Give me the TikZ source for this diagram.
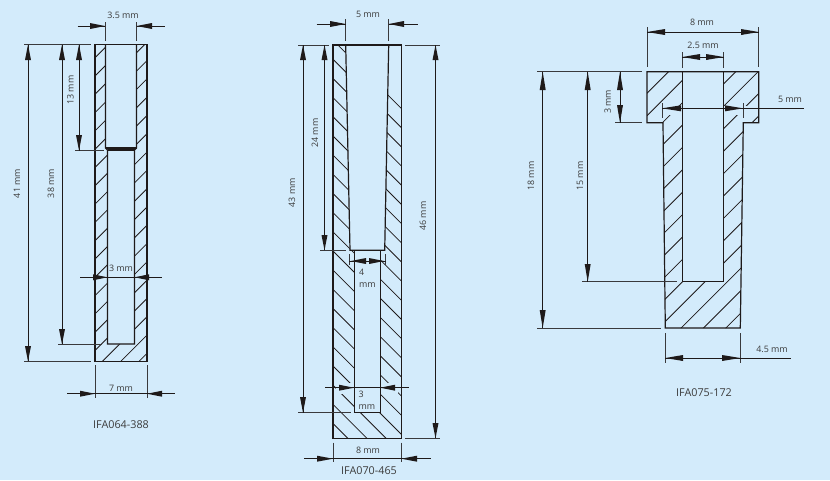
\documentclass[tikz,border=0pt]{standalone}
\usepackage{fontspec}
\setmainfont{Open Sans}
\definecolor{bgc}{HTML}{D3EBFB}
\definecolor{ink}{HTML}{1E1A1A}
\definecolor{txt}{HTML}{3C3C3C}
\tikzset{
 outline/.style={draw=ink,line width=1.2pt,line join=miter},
 hatchline/.style={draw=ink,line width=0.8pt},
 dimline/.style={draw=ink,line width=0.8pt},
 extline/.style={draw=ink!85!bgc,line width=0.85pt},
 lbl/.style={text=txt,font=\fontsize{8.9}{10}\selectfont,inner sep=0pt},
 captxt/.style={text=txt,font=\fontsize{10.8}{12}\selectfont,inner sep=0pt},
}
\newcommand{\headx}[3]{\fill[ink] (#1,#3) -- (#2,#3-3) -- (#2,#3+3) -- cycle;}
\newcommand{\heady}[3]{\fill[ink] (#3,#1) -- (#3-3,#2) -- (#3+3,#2) -- cycle;}
\begin{document}
\begin{tikzpicture}[x=1pt,y=-1pt]
\useasboundingbox (0,0) rectangle (830,480);
\fill[bgc] (0,0) rectangle (830,480);
%% ---------- left part
\begin{scope}
 \clip (95,44.5) rectangle (147,361.3);
 \foreach \n in {-1,...,20} \draw[hatchline] (95,57.7+18.3*\n) -- ++(60,-60);
\end{scope}
\fill[bgc] (105.5,44.5) -- (136.5,44.5) -- (136.5,148) -- (134.5,150) -- (134.5,344) -- (107.5,344) -- (107.5,150) -- (105.5,148) -- cycle;
\draw[outline] (95,44.5) rectangle (147,361.3);
\draw[outline] (105.5,44.5) -- (105.5,148) -- (107.5,150) -- (107.5,344) -- (134.5,344) -- (134.5,150) -- (136.5,148) -- (136.5,44.5);
\draw[outline] (105.5,148) -- (136.5,148) (107.5,150) -- (134.5,150);
% extension lines
\draw[extline] (24,44.5) -- (91,44.5);
\draw[extline] (75,150.5) -- (104,150.5);
\draw[extline] (58,344) -- (102,344);
\draw[extline] (24,361.3) -- (91,361.3);
\draw[extline] (105.3,22) -- (105.3,41) (136.7,22) -- (136.7,41);
\draw[extline] (95,365) -- (95,398) (147,365) -- (147,398);
% dims
\draw[dimline] (77.5,26) -- (105,26) (136.5,26) -- (165,26);
\headx{105}{90}{26} \headx{136.5}{152}{26}
\draw[dimline] (28,44.5) -- (28,361.3); \heady{44.5}{60}{28} \heady{361.3}{346}{28}
\draw[dimline] (62,44.5) -- (62,344); \heady{44.5}{60}{62} \heady{344}{329}{62}
\draw[dimline] (79,44.5) -- (79,150.5); \heady{44.5}{60}{79} \heady{150.5}{135}{79}
\draw[dimline] (80,277.3) -- (162,277.3); \headx{107.5}{93}{277.3} \headx{134.5}{149}{277.3}
\draw[dimline] (67,393.7) -- (175,393.7); \headx{95}{80}{393.7} \headx{147}{162}{393.7}
\node[lbl] (a1) at (123,15.5) {3.5 mm};
\node[lbl,rotate=90] (a2) at (17,183.5) {41 mm};
\node[lbl,rotate=90] (a3) at (51,183.5) {38 mm};
\node[lbl,rotate=90] (a4) at (70.5,90) {13 mm};
\node[lbl] (a5) at (121,268) {3 mm};
\node[lbl] (a6) at (121,388) {7 mm};
\node[captxt] (a7) at (121,425) {IFA064-388};
%% ---------- middle part
\begin{scope}
 \clip (333,45) rectangle (401.3,438.3);
 \foreach \n in {-1,...,21} \draw[hatchline] (333,59.3+19.17*\n) -- ++(80,80);
\end{scope}
\fill[bgc] (345.7,45) -- (388.7,45) -- (384.7,250.3) -- (380.3,250.3) -- (380.3,412.7) -- (354.3,412.7) -- (354.3,250.3) -- (350,250.3) -- cycle;
\fill[bgc] (336,383) rectangle (398,393.5);
\draw[outline] (333,45) rectangle (401.3,438.3);
\draw[outline] (345.7,45) -- (350,250.3) -- (384.7,250.3) -- (388.7,45);
\draw[outline] (354.3,250.3) -- (354.3,412.7) -- (380.3,412.7) -- (380.3,250.3);
\draw[extline] (298,45) -- (329,45) (405,45) -- (440,45);
\draw[extline] (298,412.7) -- (351,412.7);
\draw[extline] (320,250.3) -- (346,250.3);
\draw[extline] (405,438.3) -- (440,438.3);
\draw[extline] (345.7,19) -- (345.7,41) (388.7,19) -- (388.7,41);
\draw[extline] (333,442.7) -- (333,462) (401.3,442.7) -- (401.3,462);
\draw[extline] (349.5,254) -- (349.5,265) (385,254) -- (385,265);
\draw[dimline] (316.7,24) -- (345.7,24) (388.7,24) -- (417.7,24);
\headx{345.7}{330}{24} \headx{388.7}{404}{24}
\draw[dimline] (303,45) -- (303,412.7); \heady{45}{60}{303} \heady{412.7}{397}{303}
\draw[dimline] (324.5,45) -- (324.5,250.3); \heady{45}{60}{324.5} \heady{250.3}{235}{324.5}
\draw[dimline] (435.5,45) -- (435.5,438.3); \heady{45}{60}{435.5} \heady{438.3}{423}{435.5}
\draw[dimline] (349,261) -- (386,261); \headx{351}{366}{261} \headx{384}{369}{261}
\draw[dimline] (325,387.7) -- (409,387.7); \headx{354}{339}{387.7} \headx{380.3}{395}{387.7}
\draw[dimline] (304,458.7) -- (431,458.7); \headx{333}{317}{458.7} \headx{401.3}{417}{458.7}
\node[lbl] (b1) at (368,14) {5 mm};
\node[lbl,rotate=90] (b2) at (292,192.7) {43 mm};
\node[lbl,rotate=90] (b3) at (315,133) {24 mm};
\node[lbl,rotate=90] (b4) at (423,216) {46 mm};
\node[lbl,align=left,anchor=north west] (b5) at (359,268.5) {4\\[2pt]mm};
\node[lbl,align=left,anchor=north west] (b6) at (358.5,390.5) {3\\[2pt]mm};
\node[lbl] (b7) at (368,450) {8 mm};
\node[captxt] (b8) at (369,470.5) {IFA070-465};
%% ---------- right part
\begin{scope}
 \clip (647,71.7) -- (758.7,71.7) -- (758.7,122.7) -- (743.3,122.7) -- (740.3,328) -- (665.3,328) -- (663,122.7) -- (647,122.7) -- cycle;
 \foreach \n in {-1,...,16} \draw[hatchline] (647,93.3+22.4*\n) -- ++(130,-130);
\end{scope}
\fill[bgc] (682.3,71.7) rectangle (723.7,281.7);
\fill[bgc] (660,106) rectangle (747,115);
\draw[outline] (647,71.7) -- (758.7,71.7) -- (758.7,122.7) -- (743.3,122.7) -- (740.3,328) -- (665.3,328) -- (663,122.7) -- (647,122.7) -- cycle;
\draw[outline] (682.3,71.7) -- (682.3,281.7) -- (723.7,281.7) -- (723.7,71.7);
\draw[extline] (537,71.7) -- (642,71.7);
\draw[extline] (615,122.7) -- (642,122.7);
\draw[extline] (582,281.7) -- (677,281.7);
\draw[extline] (537,328) -- (661,328);
\draw[extline] (647,27) -- (647,67) (758.7,27) -- (758.7,67);
\draw[extline] (682.3,52) -- (682.3,68) (723.7,52) -- (723.7,68);
\draw[extline] (662.7,103) -- (662.7,118) (743,103) -- (743,118);
\draw[extline] (665.3,333) -- (665.3,363) (740.3,333) -- (740.3,363);
\draw[dimline] (647,32) -- (758.7,32); \headx{647}{665}{32} \headx{758.7}{741}{32}
\draw[dimline] (682.3,57) -- (723.7,57); \headx{682.3}{700}{57} \headx{723.7}{706}{57}
\draw[dimline] (542.7,71.7) -- (542.7,328); \heady{71.7}{90}{542.7} \heady{328}{310}{542.7}
\draw[dimline] (587.7,71.7) -- (587.7,281.7); \heady{71.7}{90}{587.7} \heady{281.7}{264}{587.7}
\draw[dimline] (620,71.7) -- (620,122.7); \heady{71.7}{90}{620} \heady{122.7}{105}{620}
\draw[dimline] (662,108.3) -- (804,108.3); \headx{662}{681}{108.3} \headx{743}{725}{108.3}
\draw[dimline] (665.3,358) -- (791,358); \headx{665.3}{683}{358} \headx{740.3}{722}{358}
\node[lbl] (c1) at (702,22) {8 mm};
\node[lbl] (c2) at (703,45) {2.5 mm};
\node[lbl,rotate=90] (c3) at (607.7,102) {3 mm};
\node[lbl,rotate=90] (c4) at (531,176) {18 mm};
\node[lbl,rotate=90] (c5) at (580,176) {15 mm};
\node[lbl] (c6) at (790,99) {5 mm};
\node[lbl] (c7) at (772,349) {4.5 mm};
\node[captxt] (c8) at (704,393) {IFA075-172};
\end{tikzpicture}
\end{document}
